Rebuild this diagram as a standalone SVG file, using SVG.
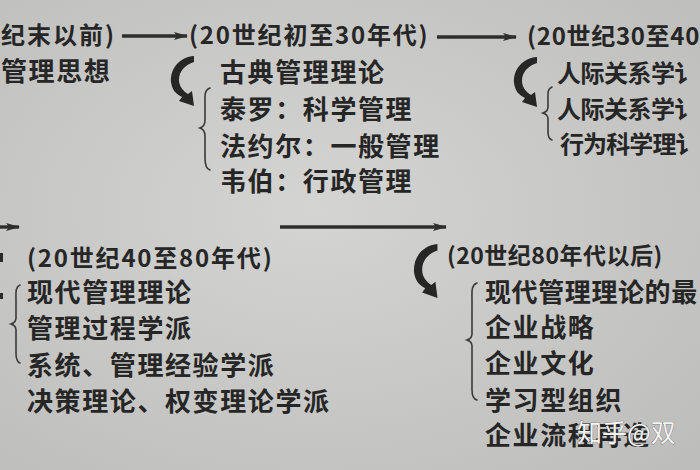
<svg xmlns="http://www.w3.org/2000/svg" width="700" height="470" viewBox="0 0 700 470">
<style>
.t{font-family:"Noto Sans CJK SC","Noto Sans",sans-serif;font-size:26px;font-weight:700;fill:#262626;letter-spacing:1.6px}
.h{font-family:"Noto Sans CJK SC","Noto Sans",sans-serif;font-size:24px;font-weight:700;fill:#262626;letter-spacing:1.8px}
.br{fill:none;stroke:#3a3a3a;stroke-width:1.6;stroke-linecap:round}
.ln{stroke:#2e2e2e;stroke-width:3.4;fill:none}
.wm{font-family:"Noto Sans CJK SC","Noto Sans",sans-serif;font-size:25px;font-weight:400;fill:#f4f4f4;stroke:#555;stroke-width:0.6;paint-order:stroke}
</style>
<defs>
<radialGradient id="bg" cx="45%" cy="45%" r="75%">
<stop offset="0" stop-color="#d4d4d2"/>
<stop offset="1" stop-color="#bdbdbb"/>
</radialGradient>
<marker id="ah" viewBox="0 0 14 8" refX="13" refY="4" markerWidth="14" markerHeight="8" markerUnits="userSpaceOnUse" orient="auto">
<path d="M0,0 L14,4 L0,8 L3,4 Z" fill="#2e2e2e"/>
</marker>
<path id="curl" d="M24,0 C10,1 0,12 1,26 C2,34 6,38 12,41 L9,45 L24,50 L22,35 L18,38 C13,35 9,30 9,24 C9,15 15,9 24,6 Z" fill="#262626"/>
</defs>
<rect width="700" height="470" fill="url(#bg)"/>
<g id="connectors">
<line class="ln" x1="122" y1="36" x2="187" y2="36" marker-end="url(#ah)"/>
<line class="ln" x1="437" y1="37" x2="516" y2="37" marker-end="url(#ah)"/>
<line class="ln" x1="0" y1="227" x2="19" y2="227" marker-end="url(#ah)"/>
<line class="ln" x1="280" y1="227" x2="446" y2="227" marker-end="url(#ah)"/>
<use href="#curl" transform="translate(170,56)"/>
<use href="#curl" transform="translate(513,57)"/>
<use href="#curl" transform="translate(413,244) scale(1.02,1.08)"/>
<rect x="0" y="253" width="3" height="9" fill="#2a2a2a"/>
<rect x="0" y="293" width="3" height="6" fill="#2a2a2a"/>
</g>
<g id="node-19c">
<text class="h" x="1" y="44" style="letter-spacing:2px">纪末以前)</text>
<text class="t" x="1" y="81">管理思想</text>
</g>
<g id="node-classical">
<text class="h" x="189" y="44">(20世纪初至30年代)</text>
<text class="t" x="220" y="82">古典管理理论</text>
<path class="br" d="M210,88 C204,90 205,96 205,104 L205,120 C205,125 203,127 200,128 C203,129 205,131 205,136 L205,158 C205,165 206,169 210,170"/>
<text class="t" x="220" y="119">泰罗：科学管理</text>
<text class="t" x="220" y="156">法约尔：一般管理</text>
<text class="t" x="220" y="191">韦伯：行政管理</text>
</g>
<g id="node-human">
<text class="h" x="527" y="45" style="letter-spacing:0.7px">(20世纪30至40</text>
<text class="t" x="557" y="82" style="font-size:24px;letter-spacing:-0.5px">人际关系学讠</text>
<path class="br" d="M552,87 C547,89 548,94 548,100 L548,107 C548,110 546,112 543,113 C546,114 548,116 548,119 L548,132 C548,137 549,139 552,140"/>
<text class="t" x="557" y="118" style="font-size:24px;letter-spacing:-0.5px">人际关系学讠</text>
<text class="t" x="560" y="153" style="font-size:24px;letter-spacing:-0.9px">行为科学理讠</text>
</g>
<g id="node-modern">
<text class="h" x="27" y="267">(20世纪40至80年代)</text>
<path class="br" d="M20,285 C15,287 16,293 16,300 L16,318 C16,321 14,323 11,324 C14,325 16,327 16,330 L16,353 C16,359 17,362 20,363"/>
<text class="t" x="27" y="302">现代管理理论</text>
<text class="t" x="27" y="338">管理过程学派</text>
<text class="t" x="27" y="375">系统、管理经验学派</text>
<text class="t" x="27" y="411">决策理论、权变理论学派</text>
</g>
<g id="node-recent">
<text class="h" x="447" y="264" style="font-size:23px;letter-spacing:0.5px">(20世纪80年代以后)</text>
<path class="br" d="M477,283 C471,285 472,292 472,300 L472,334 C472,337 470,339 467,340 C470,341 472,343 472,346 L472,390 C472,396 473,399 477,400"/>
<text class="t" x="485" y="302" style="letter-spacing:0.6px">现代管理理论的最</text>
<text class="t" x="485" y="337">企业战略</text>
<text class="t" x="485" y="373">企业文化</text>
<text class="t" x="485" y="410">学习型组织</text>
<text class="t" x="485" y="445">企业流程再造</text>
</g>
<text class="wm" x="577" y="442">知乎@双</text>
</svg>
